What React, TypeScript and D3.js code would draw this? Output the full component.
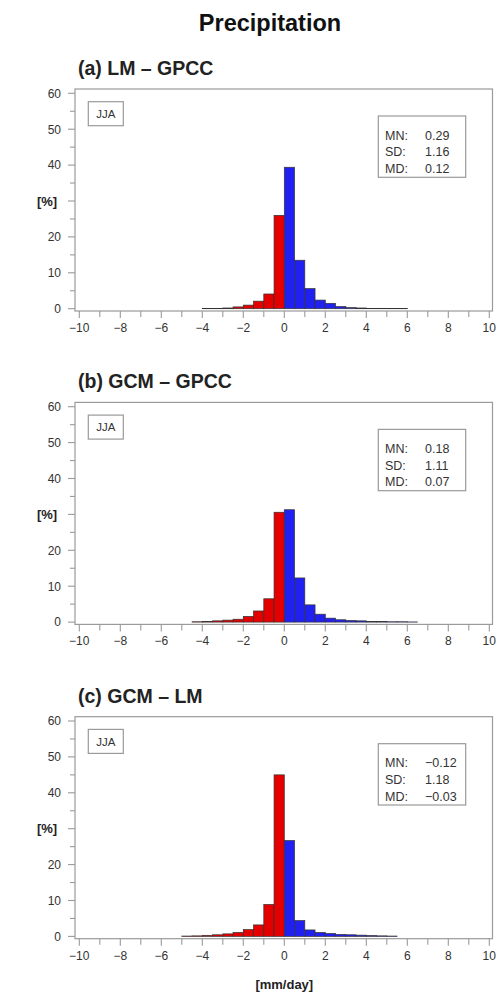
import React from "react";
import * as d3 from "d3";

const binLows = [-5, -4.5, -4, -3.5, -3, -2.5, -2, -1.5, -1, -0.5, 0, 0.5, 1, 1.5, 2, 2.5, 3, 3.5, 4, 4.5, 5, 5.5, 6];
const valuesA = [null, null, 0.05, 0.1, 0.2, 0.5, 1.0, 2.1, 4.1, 26.0, 39.4, 13.5, 5.6, 2.4, 1.5, 0.6, 0.3, 0.2, 0.1, 0.1, 0.05, 0.05, null];
const valuesB = [null, 0.1, 0.2, 0.35, 0.55, 0.8, 1.6, 3.1, 6.5, 30.6, 31.3, 12.3, 4.8, 2.2, 1.1, 0.65, 0.45, 0.35, 0.2, 0.15, 0.1, 0.1, 0.05];
const valuesC = [0.1, 0.15, 0.3, 0.45, 0.7, 1.1, 1.9, 3.2, 8.9, 45.0, 26.7, 4.4, 1.8, 1.1, 0.8, 0.55, 0.45, 0.35, 0.25, 0.15, 0.1, null, null];

const panelLetters = ["(a)", "(b)", "(c)"];
const panelNames = ["LM \u2013 GPCC", "GCM \u2013 GPCC", "GCM \u2013 LM"];
const statLabels = ["MN:", "SD:", "MD:"];
const statsA = ["0.29", "1.16", "0.12"];
const statsB = ["0.18", "1.11", "0.07"];
const statsC = ["\u22120.12", "1.18", "\u22120.03"];
const seasonLabel = "JJA";
const xTickValues = [-10, -8, -6, -4, -2, 0, 2, 4, 6, 8, 10];
// the 30 label is covered by the "[%]" unit label in the reference
const yTickValues = [0, 10, 20, 40, 50, 60];

const BIN_WIDTH = 0.5;
const FONT = "'Liberation Sans', Arial, Helvetica, sans-serif";
const RED = "#e40000";
const BLUE = "#2020f0";
const GRID = "#9a9a9a";
const TEXT = "#333";

const panelOffsets = [0, 313.4, 627.7];

const x = d3.scaleLinear().domain([-10, 10]).range([79.3, 489.3]);
const y = d3.scaleLinear().domain([0, 60]).range([308.7, 93.3]);

const frame = { left: 75, right: 492.5, top: 89, bottom: 311 };

function fmt(v: number) {
  return v < 0 ? "\u2212" + Math.abs(v) : String(v);
}

function Panel({ idx, values, stats }: { idx: number; values: (number | null)[]; stats: string[] }) {
  const oy = panelOffsets[idx];
  const minorX = d3.range(-10, 11, 1);
  const minorY = d3.range(0, 61, 5);
  return (
    <g transform={`translate(0,${oy})`}>
      <text x={78} y={75} fontFamily={FONT} fontSize={19.5} fill="#222">
        <tspan fontWeight="bold">{panelLetters[idx]}</tspan>
        <tspan fontWeight="bold"> {panelNames[idx]}</tspan>
      </text>
      <rect x={frame.left} y={frame.top} width={frame.right - frame.left} height={frame.bottom - frame.top} fill="white" stroke={GRID} strokeWidth={1.2} />
      {minorY.map((v) => (
        <line key={"yt" + v} x1={frame.left} x2={frame.left - (v % 10 === 0 ? 7 : 5)} y1={y(v)} y2={y(v)} stroke={GRID} strokeWidth={1.1} />
      ))}
      {yTickValues.map((v) => (
        <text key={"yl" + v} x={61} y={y(v)} dy="0.36em" textAnchor="end" fontFamily={FONT} fontSize={12} fill={TEXT}>
          {v}
        </text>
      ))}
      {minorX.map((v) => (
        <line key={"xt" + v} x1={x(v)} x2={x(v)} y1={frame.bottom} y2={frame.bottom + (v % 2 === 0 ? 7 : 6)} stroke={GRID} strokeWidth={1.1} />
      ))}
      {xTickValues.map((v) => (
        <text key={"xl" + v} x={x(v)} y={frame.bottom + 21} textAnchor="middle" fontFamily={FONT} fontSize={12} fill={TEXT}>
          {fmt(v)}
        </text>
      ))}
      <text x={47} y={y(30)} dy="0.36em" textAnchor="middle" fontFamily={FONT} fontSize={13} fontWeight="bold" fill="#222">
        [%]
      </text>
      {binLows.map((b, i) => {
        const v = values[i];
        if (v === null || v === undefined) return null;
        const x0 = x(b);
        const x1 = x(b + BIN_WIDTH);
        const yt = y(v);
        return (
          <rect
            key={"bar" + i}
            x={x0}
            y={yt}
            width={x1 - x0}
            height={Math.max(y(0) - yt, 0.01)}
            fill={b < 0 ? RED : BLUE}
            stroke="#333"
            strokeWidth={0.7}
          />
        );
      })}
      <rect x={88.3} y={101.7} width={35} height={24} fill="white" stroke={GRID} strokeWidth={1.2} />
      <text x={105.8} y={113.7} dy="0.36em" textAnchor="middle" fontFamily={FONT} fontSize={11.5} fill={TEXT}>
        {seasonLabel}
      </text>
      <rect x={378.3} y={116} width={87.4} height={61.3} fill="white" stroke={GRID} strokeWidth={1.2} />
      {statLabels.map((s, i) => (
        <g key={"st" + i}>
          <text x={385} y={135 + i * 16.7} dy="0.36em" fontFamily={FONT} fontSize={12.5} fill={TEXT}>
            {s}
          </text>
          <text x={425} y={135 + i * 16.7} dy="0.36em" fontFamily={FONT} fontSize={12.5} fill={TEXT}>
            {stats[i]}
          </text>
        </g>
      ))}
    </g>
  );
}

export default function App() {
  return (
    <svg width={499} height={998} style={{ position: "absolute", left: 0, top: 0, background: "white" }}>
      <rect width={499} height={998} fill="white" />
      <text x={270} y={31} textAnchor="middle" fontFamily={FONT} fontSize={23.5} fontWeight="bold" fill="#111">
        Precipitation
      </text>
      <Panel idx={0} values={valuesA} stats={statsA} />
      <Panel idx={1} values={valuesB} stats={statsB} />
      <Panel idx={2} values={valuesC} stats={statsC} />
      <text x={x(0)} y={989} textAnchor="middle" fontFamily={FONT} fontSize={13} fontWeight="bold" fill="#222">
        [mm/day]
      </text>
    </svg>
  );
}
